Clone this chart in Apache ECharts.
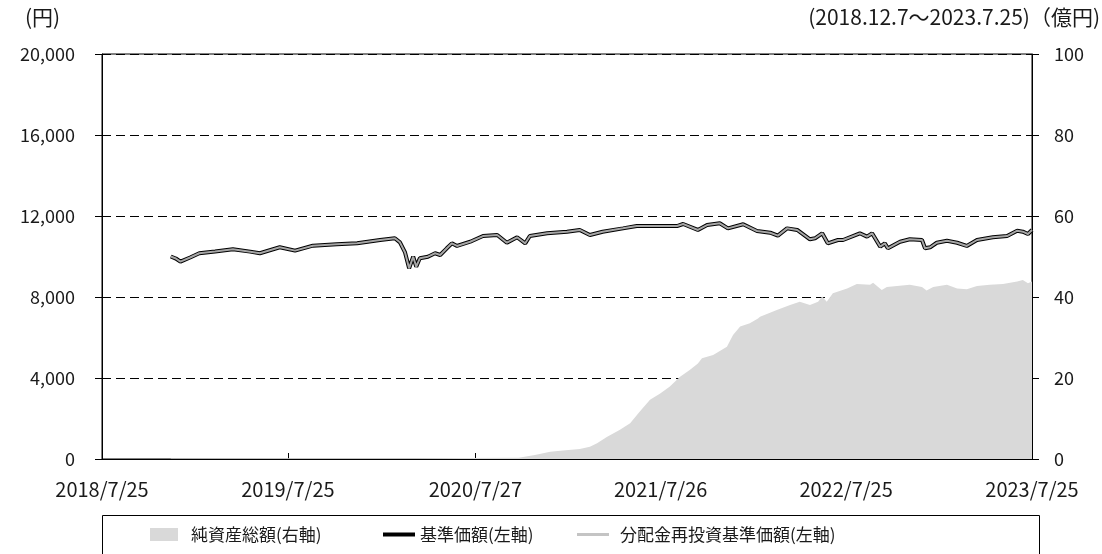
<!DOCTYPE html>
<html>
<head>
<meta charset="utf-8">
<script src="https://cdn.jsdelivr.net/npm/echarts@6/dist/echarts.min.js"></script>
<style>
  html, body { margin: 0; padding: 0; background: #fff; }
  #chart { width: 1102px; height: 554px; }
</style>
</head>
<body>
<div id="chart"></div>
<script>
// 基準価額（円）
const priceDates = [
  '2018-12-07', '2018-12-17', '2018-12-26', '2019-01-14', '2019-02-01', '2019-03-04',
  '2019-04-08', '2019-05-12', '2019-05-31', '2019-07-09', '2019-08-08', '2019-09-12',
  '2019-10-29', '2019-12-08', '2020-01-22', '2020-02-20', '2020-03-01', '2020-03-11',
  '2020-03-19', '2020-03-27', '2020-04-02', '2020-04-09', '2020-04-25', '2020-05-09',
  '2020-05-19', '2020-06-01', '2020-06-11', '2020-06-21', '2020-07-17', '2020-08-11',
  '2020-09-08', '2020-09-27', '2020-10-17', '2020-11-02', '2020-11-11', '2020-12-15',
  '2021-01-23', '2021-02-17', '2021-03-09', '2021-04-03', '2021-05-13', '2021-06-09',
  '2021-06-29', '2021-08-27', '2021-09-08', '2021-10-07', '2021-10-25', '2021-11-19',
  '2021-12-05', '2022-01-04', '2022-01-31', '2022-02-26', '2022-03-13', '2022-03-31',
  '2022-04-20', '2022-05-15', '2022-05-25', '2022-06-08', '2022-06-19', '2022-07-09',
  '2022-07-19', '2022-08-21', '2022-09-04', '2022-09-14', '2022-09-30', '2022-10-09',
  '2022-10-15', '2022-11-08', '2022-11-27', '2022-12-21', '2022-12-27', '2023-01-06',
  '2023-01-19', '2023-02-08', '2023-02-28', '2023-03-19', '2023-04-08', '2023-05-09',
  '2023-06-06', '2023-06-26', '2023-07-07', '2023-07-17', '2023-07-25'
];
const priceValues = [
  10000, 9900, 9745, 9950, 10160, 10250,
  10355, 10240, 10160, 10455, 10290, 10535,
  10600, 10650, 10815, 10900, 10700, 10200,
  9415, 9990, 9500, 9910, 9990, 10160,
  10075, 10405, 10650, 10520, 10730, 11010,
  11060, 10680, 10950, 10650, 11010, 11145,
  11225, 11310, 11060, 11225, 11390, 11505,
  11505, 11505, 11605, 11310, 11555, 11640,
  11390, 11590, 11260, 11175, 11030, 11390,
  11310, 10850, 10900, 11145, 10650, 10815,
  10815, 11145, 10980, 11145, 10485, 10650,
  10405, 10730, 10850, 10815, 10405, 10455,
  10680, 10780, 10680, 10520, 10815, 10950,
  11010, 11275, 11225, 11110, 11310
];
// 分配金再投資基準価額（円）: 分配実績なしのため基準価額と同じ
const reinvestValues = priceValues.slice();

// 純資産総額（億円）
const navDates = [
  '2018-12-07', '2019-06-28', '2020-03-31', '2020-10-20', '2020-11-21', '2020-12-21',
  '2021-01-15', '2021-02-17', '2021-03-09', '2021-03-23', '2021-04-12', '2021-05-07',
  '2021-05-27', '2021-06-15', '2021-07-05', '2021-07-25', '2021-08-13', '2021-09-02',
  '2021-09-21', '2021-10-07', '2021-10-15', '2021-11-06', '2021-12-03', '2021-12-15',
  '2021-12-29', '2022-01-17', '2022-02-02', '2022-02-06', '2022-03-11', '2022-04-06',
  '2022-04-25', '2022-05-15', '2022-05-31', '2022-06-08', '2022-06-17', '2022-06-29',
  '2022-07-27', '2022-08-15', '2022-09-10', '2022-09-16', '2022-10-03', '2022-10-13',
  '2022-11-02', '2022-11-27', '2022-12-21', '2022-12-30', '2023-01-12', '2023-02-08',
  '2023-02-28', '2023-03-19', '2023-04-08', '2023-05-03', '2023-05-29', '2023-06-26',
  '2023-07-07', '2023-07-17', '2023-07-25'
];
const navValues = [
  0.1, 0.2, 0.2, 0.3, 1.0, 1.8,
  2.1, 2.5, 3.0, 3.9, 5.5, 7.2,
  8.8, 11.7, 14.6, 16.2, 17.9, 20.3,
  22.0, 23.6, 24.9, 25.7, 27.7, 30.6,
  32.7, 33.5, 34.7, 35.1, 36.8, 38.0,
  38.8, 38.0, 38.8, 40.1, 38.8, 40.9,
  42.1, 43.2, 43.0, 43.5, 41.7, 42.5,
  42.7, 43.0, 42.5, 41.6, 42.5, 43.0,
  42.1, 41.9, 42.7, 43.0, 43.2, 43.8,
  44.2, 43.4, 43.8
];

// x軸の目盛り日付
const xTickDates = ['2018-07-25', '2019-07-25', '2020-07-27', '2021-07-26', '2022-07-25', '2023-07-25'];

const FONT = '"Noto Sans CJK JP", "Noto Sans", sans-serif';
const TEXT_COLOR = '#1a1a1a';
const Y_FS = 18;
const X_FS = 20;
const TITLE_FS = 21;

let toTime = (s) => {
  let p = s.split('-').map(Number);
  return Date.UTC(p[0], p[1] - 1, p[2]);
};
let fmtDate = (v) => {
  let d = new Date(v);
  return d.getUTCFullYear() + '/' + (d.getUTCMonth() + 1) + '/' + d.getUTCDate();
};

const tickTimes = xTickDates.map(toTime);
const priceData = priceDates.map((d, i) => [toTime(d), priceValues[i]]);
const reinvestData = priceDates.map((d, i) => [toTime(d), reinvestValues[i]]);
const navData = navDates.map((d, i) => [toTime(d), navValues[i]]);

let chartInstance = echarts.init(document.getElementById('chart'), null, { renderer: 'canvas' });

const legendText = { fontSize: 17, fontFamily: FONT, color: TEXT_COLOR };

const option = {
  animation: false,
  backgroundColor: '#fff',
  textStyle: { fontFamily: FONT, color: TEXT_COLOR },
  grid: {
    left: 102,
    right: 70,
    top: 54,
    bottom: 95,
    show: true,
    borderColor: '#000',
    borderWidth: 1,
    backgroundColor: 'transparent'
  },
  legend: [
    {
      left: 150, top: 526, padding: 0,
      itemWidth: 28, itemHeight: 13, itemGap: 0,
      icon: 'rect',
      textStyle: Object.assign({ padding: [0, 0, 0, 8] }, legendText),
      data: [{ name: '純資産総額(右軸)', itemStyle: { color: '#d9d9d9' } }]
    },
    {
      left: 383, top: 526, padding: 0,
      itemWidth: 32, itemHeight: 4, itemGap: 0,
      icon: 'rect',
      textStyle: Object.assign({ padding: [0, 0, 0, 0] }, legendText),
      data: [{ name: '基準価額(左軸)', itemStyle: { color: '#000' } }]
    },
    {
      left: 577, top: 526, padding: 0,
      itemWidth: 32, itemHeight: 3, itemGap: 0,
      icon: 'rect',
      textStyle: Object.assign({ padding: [0, 0, 0, 6] }, legendText),
      data: [{ name: '分配金再投資基準価額(左軸)', itemStyle: { color: '#c4c4c4' } }]
    }
  ],
  graphic: [
    {
      type: 'rect',
      shape: { x: 102.5, y: 515.5, width: 937, height: 40 },
      style: { fill: 'none', stroke: '#000', lineWidth: 1 },
      silent: true
    },
    {
      type: 'text',
      left: 25, top: 7,
      style: { text: '(円)', fontSize: TITLE_FS, fontFamily: FONT, fill: TEXT_COLOR }
    },
    {
      type: 'text',
      right: 2, top: 7,
      style: { text: '(2018.12.7〜2023.7.25)（億円)', fontSize: TITLE_FS, fontFamily: FONT, fill: TEXT_COLOR }
    }
  ],
  xAxis: {
    type: 'value',
    min: toTime('2018-07-25'),
    max: toTime('2023-07-25'),
    axisLine: { show: true, onZero: false, lineStyle: { color: '#000', width: 1 } },
    axisTick: {
      show: true,
      inside: true,
      length: 6,
      lineStyle: { color: '#000' },
      customValues: tickTimes
    },
    axisLabel: {
      fontSize: X_FS,
      fontFamily: FONT,
      color: TEXT_COLOR,
      margin: 20,
      customValues: tickTimes,
      formatter: (v) => fmtDate(v),
      showMinLabel: true,
      showMaxLabel: true
    },
    splitLine: { show: false }
  },
  yAxis: [
    {
      type: 'value',
      min: 0,
      max: 20000,
      interval: 4000,
      position: 'left',
      axisLine: { show: true, lineStyle: { color: '#000', width: 1 } },
      axisTick: { show: true, length: 7, lineStyle: { color: '#000' } },
      axisLabel: {
        fontSize: Y_FS,
        fontFamily: FONT,
        color: TEXT_COLOR,
        margin: 27,
        formatter: (v) => v.toLocaleString('en-US')
      },
      splitLine: { show: true, lineStyle: { color: '#000', width: 1, type: [9, 5] } }
    },
    {
      type: 'value',
      min: 0,
      max: 100,
      interval: 20,
      position: 'right',
      axisLine: { show: true, lineStyle: { color: '#000', width: 1 } },
      axisTick: { show: true, length: 7, lineStyle: { color: '#000' } },
      axisLabel: {
        fontSize: Y_FS,
        fontFamily: FONT,
        color: TEXT_COLOR,
        margin: 22
      },
      splitLine: { show: false }
    }
  ],
  series: [
    {
      name: '純資産総額(右軸)',
      type: 'line',
      yAxisIndex: 1,
      data: navData,
      showSymbol: false,
      symbol: 'none',
      itemStyle: { color: '#d9d9d9' },
      lineStyle: { width: 0, color: '#d9d9d9' },
      areaStyle: { color: '#d9d9d9', opacity: 1 },
      z: 1
    },
    {
      name: '基準価額(左軸)',
      type: 'line',
      yAxisIndex: 0,
      data: priceData,
      showSymbol: false,
      symbol: 'none',
      itemStyle: { color: '#000' },
      lineStyle: { width: 4, color: '#000' },
      z: 3
    },
    {
      name: '分配金再投資基準価額(左軸)',
      type: 'line',
      yAxisIndex: 0,
      data: reinvestData,
      showSymbol: false,
      symbol: 'none',
      itemStyle: { color: '#a6a6a6' },
      lineStyle: { width: 2, color: '#a6a6a6' },
      z: 4
    }
  ]
};

chartInstance.setOption(option);
</script>
</body>
</html>
